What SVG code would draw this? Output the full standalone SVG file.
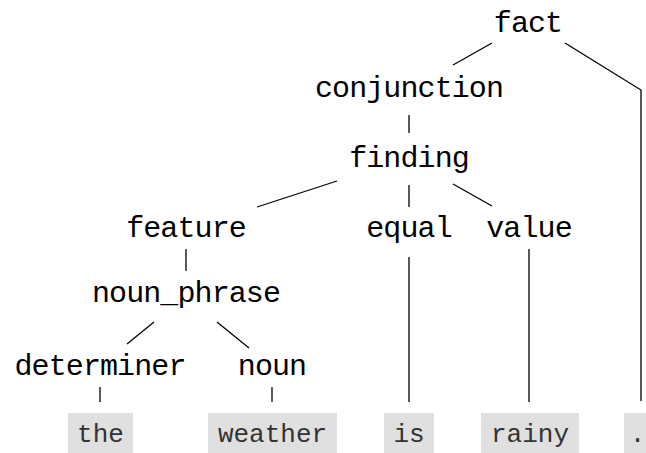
<svg xmlns="http://www.w3.org/2000/svg" width="646" height="453" viewBox="0 0 646 453">
  <style>
    .node text { font-family: "Liberation Mono", "DejaVu Sans Mono", monospace; font-size: 30px; letter-spacing: -0.9px; fill: #000; text-anchor: middle; }
    .leaf rect { fill: #e0e0e0; }
    .leaf text { font-family: "Liberation Mono", "Courier New", monospace; font-size: 26px; fill: #333; text-anchor: middle; }
    .edges line, .edges polyline { stroke: #000; stroke-width: 1.3; fill: none; }
  </style>
  <rect width="646" height="453" fill="#fff"/>

  <!-- tree edges -->
  <g id="edges" class="edges">
    <line x1="492" y1="43" x2="453" y2="65"/>
    <polyline points="565,43 641,90 641,401"/>
    <line x1="409" y1="115" x2="409" y2="133"/>
    <line x1="337" y1="181" x2="257" y2="207"/>
    <line x1="409" y1="185" x2="409" y2="207"/>
    <line x1="453" y1="184" x2="492" y2="206"/>
    <line x1="409" y1="257" x2="409" y2="402"/>
    <line x1="529" y1="249" x2="529" y2="402"/>
    <line x1="186" y1="249" x2="186" y2="271"/>
    <line x1="154" y1="322" x2="127" y2="344"/>
    <line x1="217" y1="322" x2="249" y2="348"/>
    <line x1="100" y1="387" x2="100" y2="402"/>
    <line x1="272" y1="387" x2="272" y2="402"/>
  </g>

  <!-- nonterminal nodes -->
  <g id="n-fact" class="node"><text x="528" y="32">fact</text></g>
  <g id="n-conjunction" class="node"><text x="409" y="97">conjunction</text></g>
  <g id="n-finding" class="node"><text x="409" y="167">finding</text></g>
  <g id="n-feature" class="node"><text x="186" y="237">feature</text></g>
  <g id="n-equal" class="node"><text x="409" y="237">equal</text></g>
  <g id="n-value" class="node"><text x="529" y="237">value</text></g>
  <g id="n-noun_phrase" class="node"><text x="186" y="302">noun_phrase</text></g>
  <g id="n-determiner" class="node"><text x="100" y="375">determiner</text></g>
  <g id="n-noun" class="node"><text x="272" y="375">noun</text></g>

  <!-- tokens -->
  <g id="t-the" class="leaf"><rect x="68" y="413" width="65" height="41"/><text x="100.5" y="442">the</text></g>
  <g id="t-weather" class="leaf"><rect x="208" y="413" width="129" height="41"/><text x="272.5" y="442">weather</text></g>
  <g id="t-is" class="leaf"><rect x="384" y="413" width="50" height="41"/><text x="409" y="442">is</text></g>
  <g id="t-rainy" class="leaf"><rect x="481" y="413" width="98" height="41"/><text x="530" y="442">rainy</text></g>
  <g id="t-period" class="leaf"><rect x="624" y="413" width="35" height="41"/><text x="637.5" y="442">.</text></g>
</svg>
